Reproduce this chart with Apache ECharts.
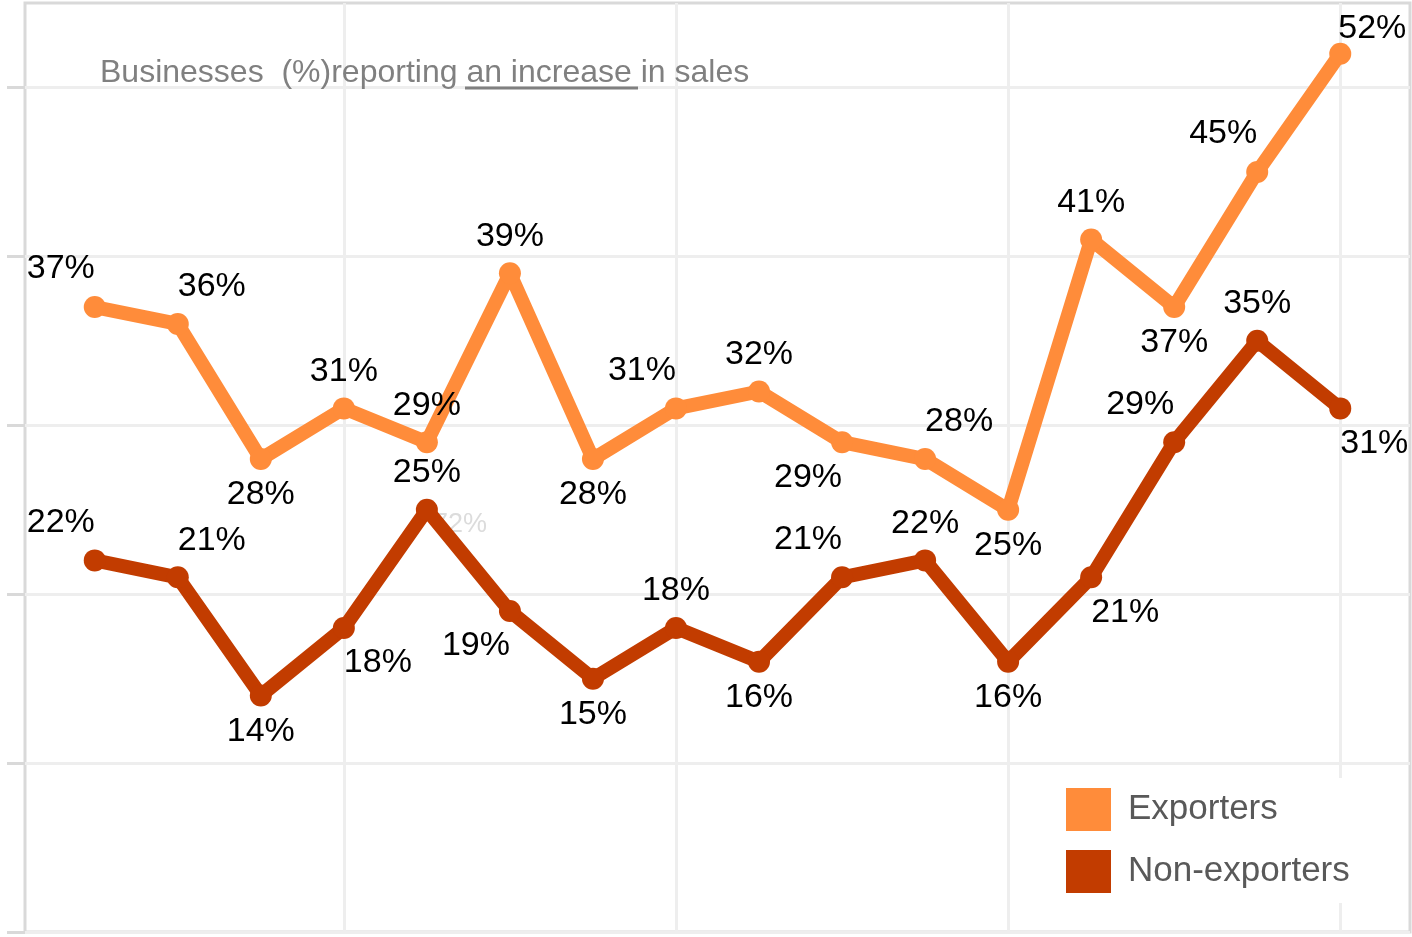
<!DOCTYPE html>
<html>
<head>
<meta charset="utf-8">
<title>Businesses reporting an increase in sales</title>
<script src="https://cdn.jsdelivr.net/npm/echarts@6/dist/echarts.min.js"></script>
<style>
  html, body { margin: 0; padding: 0; background: #ffffff; }
  #chart { width: 1412px; height: 937px; }
</style>
</head>
<body>
<div id="chart"></div>
<script>
// Survey periods (sequential index along the horizontal axis)
const periods = [1, 2, 3, 4, 5, 6, 7, 8, 9, 10, 11, 12, 13, 14, 15, 16];

// Share of businesses (%) reporting an increase in sales
const exporters    = [37, 36, 28, 31, 29, 39, 28, 31, 32, 29, 28, 25, 41, 37, 45, 52];
const nonExporters = [22, 21, 14, 18, 25, 19, 15, 18, 16, 21, 22, 16, 21, 29, 35, 31];

const seriesNames = ['Exporters', 'Non-exporters'];

// Where each value label sits around its point
const exporterLabelSide    = ['TL', 'TR', 'B', 'T', 'T', 'T', 'B', 'TL', 'T', 'BL', 'TR', 'B', 'T', 'B', 'TL', 'TR2'];
const nonExporterLabelSide = ['TL', 'TR', 'B', 'BR', 'T', 'BL', 'B', 'T', 'B', 'TL', 'T', 'B', 'BR', 'TL', 'T', 'BR'];

const yTicks = [0, 10, 20, 30, 40, 50];
const xGridMarks = [4, 8, 12, 16];

const labelOffsets = {
  T:   [0, -37],
  B:   [0, 36],
  TL:  [-34, -38],
  TR:  [34, -37],
  TR2: [32, -25],
  BL:  [-34, 35],
  BR:  [34, 35]
};

const FONT = '"Liberation Sans", Arial, Helvetica, sans-serif';

function buildData(values, sides) {
  return values.map((v, i) => ({
    value: [periods[i], v],
    label: { offset: labelOffsets[sides[i]] }
  }));
}

function lineSeries(name, values, sides, color) {
  return {
    name: name,
    type: 'line',
    data: buildData(values, sides),
    color: color,
    lineStyle: { color: color, width: 14, cap: 'round', join: 'round' },
    itemStyle: { color: color, borderWidth: 0 },
    symbol: 'circle',
    symbolSize: 22,
    showSymbol: true,
    animation: false,
    label: {
      show: true,
      position: 'inside',
      formatter: p => p.value[1] + '%',
      color: '#000000',
      fontFamily: FONT,
      fontSize: 34,
      align: 'center',
      verticalAlign: 'middle'
    },
    emphasis: { disabled: true },
    z: 3
  };
}

const chart = echarts.init(document.getElementById('chart'), null, { renderer: 'canvas' });

chart.setOption({
  backgroundColor: '#ffffff',
  animation: false,
  grid: {
    left: 25, right: 2, top: 3, bottom: 5,
    show: true,
    borderColor: '#d9d9d9',
    borderWidth: 3,
    backgroundColor: 'transparent'
  },
  xAxis: {
    type: 'value',
    min: 0.16,
    max: 16.84,
    axisLine: { show: false },
    axisLabel: { show: false },
    axisTick: { show: false, customValues: xGridMarks },
    splitLine: { show: true, lineStyle: { color: '#eeeeee', width: 3 } }
  },
  yAxis: {
    type: 'value',
    min: 0,
    max: 55,
    axisLine: { show: false },
    axisLabel: { show: false },
    axisTick: {
      show: true,
      inside: false,
      length: 18,
      customValues: yTicks,
      lineStyle: { color: '#d9d9d9', width: 3 }
    },
    splitLine: { show: true, lineStyle: { color: '#eeeeee', width: 3 } }
  },
  legend: {
    orient: 'vertical',
    left: 1056,
    top: 778,
    padding: 10,
    itemWidth: 45,
    itemHeight: 43,
    itemGap: 19,
    icon: 'rect',
    backgroundColor: '#ffffff',
    selectedMode: false,
    data: seriesNames,
    itemStyle: { borderWidth: 0 },
    textStyle: {
      fontFamily: FONT,
      fontSize: 35,
      color: '#595959',
      padding: [0, 0, 0, 12]
    }
  },
  graphic: [
    {
      type: 'text',
      z: 1,
      style: {
        x: 100,
        y: 73,
        text: 'Businesses  (%)reporting an increase in sales',
        font: '32px ' + FONT,
        fill: '#808080',
        verticalAlign: 'middle'
      }
    },
    {
      type: 'line',
      z: 1,
      shape: { x1: 465, y1: 88, x2: 638, y2: 88 },
      style: { stroke: '#808080', lineWidth: 3 }
    },
    {
      type: 'text',
      z: 1,
      style: {
        x: 433,
        y: 525,
        text: '72%',
        font: '27px ' + FONT,
        fill: '#dcdcdc',
        verticalAlign: 'middle'
      }
    }
  ],
  series: [
    lineSeries(seriesNames[0], exporters, exporterLabelSide, '#ff8c3a'),
    lineSeries(seriesNames[1], nonExporters, nonExporterLabelSide, '#c23c00')
  ]
});
</script>
</body>
</html>
